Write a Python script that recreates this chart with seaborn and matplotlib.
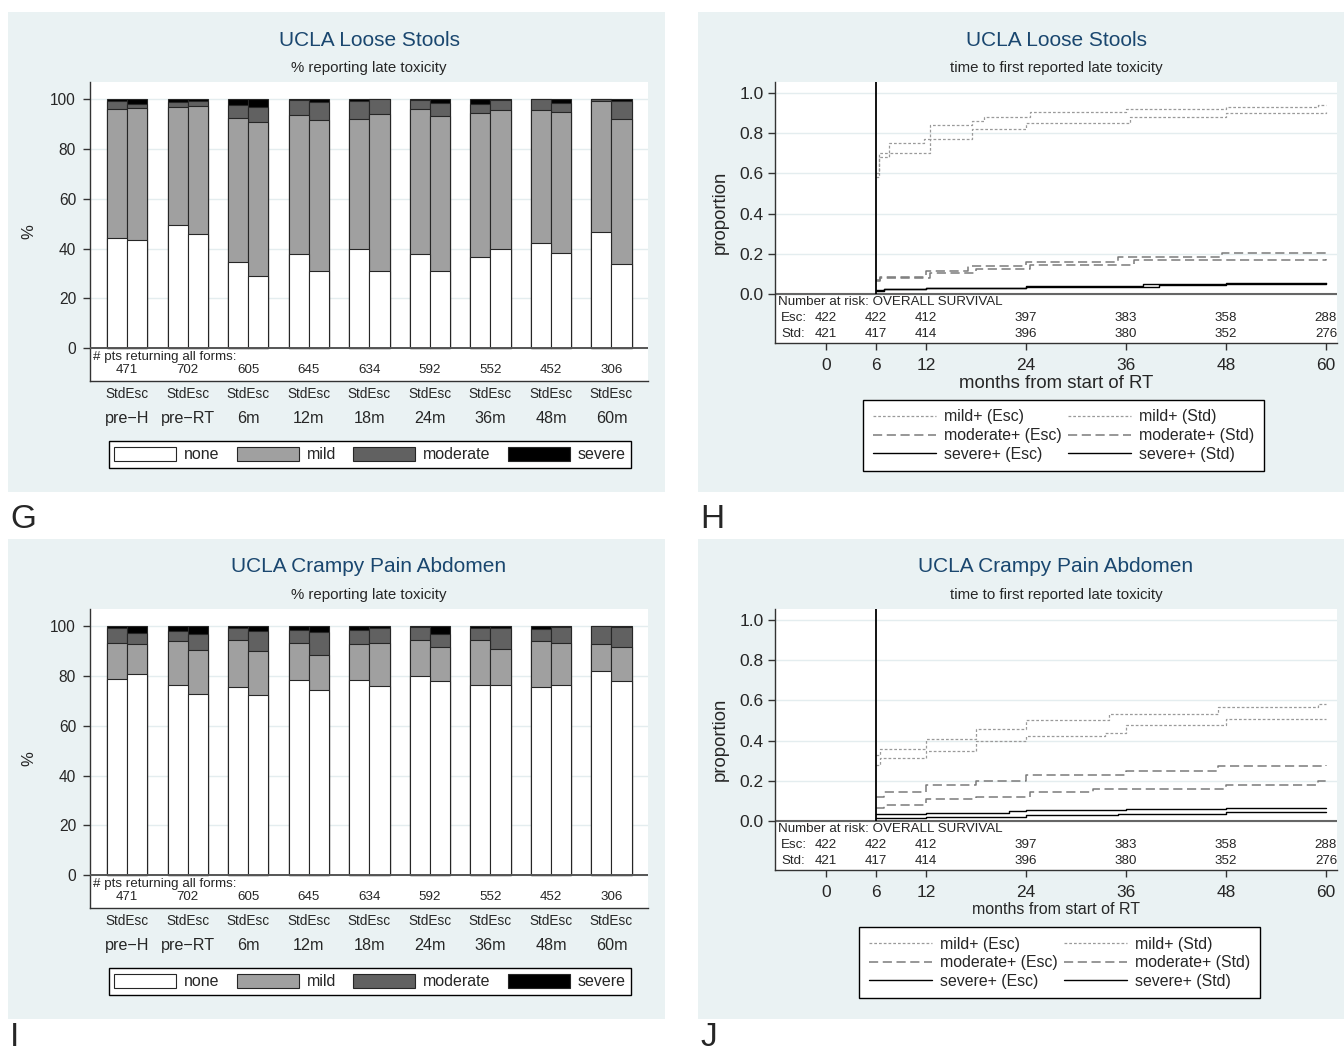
import matplotlib
matplotlib.use('Agg')
import matplotlib.pyplot as plt
from matplotlib.patches import Patch
from matplotlib.lines import Line2D
import seaborn as sns
import pandas as pd

W, H = 1344, 1054
BG = '#EAF2F3'
NAVY = '#1A476F'
GRID = '#E4EDEF'

# categories
times = ['pre\u2212H', 'pre\u2212RT', '6m', '12m', '18m', '24m', '36m', '48m', '60m']
arms = ['Std', 'Esc']
levels = ['none', 'mild', 'moderate', 'severe']
level_colors = {'none': 'white', 'mild': '#A0A0A0', 'moderate': '#616161', 'severe': 'black'}
pts_returning = [471, 702, 605, 645, 634, 592, 552, 452, 306]

# G: UCLA loose stools, % of patients per grade
g_std_none = [44.1, 49.3, 34.5, 37.9, 40.0, 37.9, 36.5, 42.4, 46.7]
g_std_mild = [51.8, 47.5, 58.0, 55.7, 51.8, 58.0, 58.0, 53.1, 52.6]
g_std_moderate = [3.4, 2.0, 5.0, 6.1, 7.3, 3.7, 3.6, 4.5, 0.7]
g_std_severe = [0.7, 1.2, 2.5, 0.3, 0.9, 0.4, 1.9, 0.0, 0.0]
g_esc_none = [43.5, 45.8, 29.0, 31.1, 30.9, 31.1, 39.7, 38.1, 33.7]
g_esc_mild = [52.8, 51.2, 61.9, 60.3, 63.0, 62.1, 55.9, 56.6, 58.4]
g_esc_moderate = [1.8, 2.3, 6.0, 7.3, 6.0, 5.3, 4.0, 3.8, 7.2]
g_esc_severe = [1.9, 0.7, 3.1, 1.3, 0.1, 1.5, 0.4, 1.5, 0.7]

# I: UCLA crampy pain abdomen, % of patients per grade
i_std_none = [78.6, 76.3, 75.5, 78.2, 78.2, 80.0, 76.5, 75.4, 81.8]
i_std_mild = [14.5, 17.6, 19.0, 15.0, 14.6, 14.3, 17.8, 18.5, 11.1]
i_std_moderate = [5.9, 4.2, 4.5, 5.2, 5.6, 5.2, 4.7, 4.7, 7.1]
i_std_severe = [1.0, 1.9, 1.0, 1.6, 1.6, 0.5, 1.0, 1.4, 0.0]
i_esc_none = [80.9, 72.9, 72.2, 74.2, 75.9, 77.8, 76.5, 76.2, 78.1]
i_esc_mild = [12.0, 17.5, 17.9, 14.3, 17.3, 13.9, 14.4, 17.0, 13.4]
i_esc_moderate = [4.3, 6.4, 7.9, 9.1, 6.0, 5.0, 8.3, 6.2, 7.9]
i_esc_severe = [2.8, 3.2, 2.0, 2.4, 0.8, 3.3, 0.8, 0.6, 0.6]

# number at risk
risk_months = [0, 6, 12, 24, 36, 48, 60]
risk_esc = [422, 422, 412, 397, 383, 358, 288]
risk_std = [421, 417, 414, 396, 380, 352, 276]

# H: cumulative incidence, loose stools
h_mild_esc_t = [6, 6.3, 7.5, 11.8, 12.5, 17.5, 19, 24.5, 36, 48, 59, 60]
h_mild_esc_v = [0.60, 0.70, 0.75, 0.77, 0.84, 0.86, 0.88, 0.905, 0.92, 0.93, 0.94, 0.94]
h_mild_std_t = [6, 6.3, 7.5, 12.5, 17.5, 24, 36.5, 48, 60]
h_mild_std_v = [0.58, 0.68, 0.70, 0.77, 0.82, 0.85, 0.88, 0.90, 0.905]
h_mod_esc_t = [6, 6.5, 12, 17, 24, 35, 47.5, 60]
h_mod_esc_v = [0.07, 0.085, 0.115, 0.14, 0.16, 0.185, 0.205, 0.205]
h_mod_std_t = [6, 6.5, 12.5, 18, 24.5, 37, 60]
h_mod_std_v = [0.065, 0.08, 0.105, 0.125, 0.145, 0.17, 0.175]
h_sev_esc_t = [6, 7, 12, 24, 38, 48, 60]
h_sev_esc_v = [0.02, 0.028, 0.033, 0.04, 0.05, 0.055, 0.057]
h_sev_std_t = [6, 7, 12, 24, 40, 48, 60]
h_sev_std_v = [0.015, 0.025, 0.03, 0.035, 0.045, 0.05, 0.055]

# J: cumulative incidence, crampy pain abdomen
j_mild_esc_t = [6, 6.5, 12, 18, 24, 34, 47, 59, 60]
j_mild_esc_v = [0.33, 0.36, 0.41, 0.46, 0.50, 0.53, 0.567, 0.58, 0.58]
j_mild_std_t = [6, 6.5, 12, 18, 24, 33.5, 36, 48, 60]
j_mild_std_v = [0.28, 0.315, 0.35, 0.40, 0.425, 0.44, 0.476, 0.505, 0.505]
j_mod_esc_t = [6, 7, 12, 18, 24, 36, 47, 60]
j_mod_esc_v = [0.12, 0.145, 0.18, 0.20, 0.23, 0.25, 0.275, 0.28]
j_mod_std_t = [6, 7, 12, 18, 24.5, 32, 48, 59, 60]
j_mod_std_v = [0.065, 0.08, 0.11, 0.12, 0.145, 0.16, 0.18, 0.20, 0.20]
j_sev_esc_t = [6, 12, 22, 24, 36, 48, 60]
j_sev_esc_v = [0.035, 0.04, 0.05, 0.058, 0.062, 0.065, 0.065]
j_sev_std_t = [6, 12, 24, 35, 48, 60]
j_sev_std_v = [0.015, 0.02, 0.03, 0.036, 0.046, 0.046]

sns.set_style('white')
plt.rcParams['font.family'] = ['Liberation Sans', 'DejaVu Sans']

STYLES = {
    'mild': dict(color='#9A9A9A', lw=0.9, linestyle=(0, (2.2, 1.6))),
    'moderate': dict(color='#7A7A7A', lw=1.1, linestyle=(0, (6, 3))),
    'severe': dict(color='black', lw=1.0, linestyle='-'),
}


def px_axes(fig, x0, y0, x1, y1):
    return fig.add_axes([x0 / W, 1 - y1 / H, (x1 - x0) / W, (y1 - y0) / H])


def background(fig, x0, y0, x1, y1):
    bg = px_axes(fig, x0, y0, x1, y1)
    bg.set_facecolor(BG)
    bg.set_xticks([])
    bg.set_yticks([])
    for s in bg.spines.values():
        s.set_visible(False)
    return bg


def bar_frame(std, esc):
    rows = []
    for arm, parts in (('Std', std), ('Esc', esc)):
        for k, t in enumerate(times):
            top = 0.0
            for lev, vals in zip(levels, parts):
                top += vals[k]
                rows.append({'time': t, 'arm': arm, 'level': lev, 'pct': vals[k], 'top': top})
    return pd.DataFrame(rows)


def draw_bars(fig, dy, title, frame):
    background(fig, 8, 12 + dy, 665, 492 + dy)
    ax = px_axes(fig, 90, 82 + dy, 648, 381 + dy)
    ax.set_facecolor('white')
    for lev in ['severe', 'moderate', 'mild', 'none']:
        sub = frame[frame['level'] == lev]
        sns.barplot(data=sub, x='time', y='top', hue='arm', order=times, hue_order=arms,
                    palette=[level_colors[lev]] * 2, width=2 / 3, gap=0, saturation=1,
                    errorbar=None, edgecolor='#262626', linewidth=0.8, legend=False, ax=ax)
    ax.set_xlim(-0.614, 8.603)
    ax.set_ylim(-13.1, 106.8)
    ax.set_xticks([])
    ax.set_xlabel('')
    ax.set_yticks([0, 20, 40, 60, 80, 100])
    ax.tick_params(axis='y', labelsize=11.2, length=5, width=1, pad=5, left=True, color='#333333')
    ax.set_ylabel('%', fontsize=12, labelpad=10)
    ax.yaxis.grid(True, color=GRID, lw=1)
    ax.set_axisbelow(True)
    for s in ['top', 'right']:
        ax.spines[s].set_visible(False)
    for s in ['left', 'bottom']:
        ax.spines[s].set_color('#333333')
        ax.spines[s].set_linewidth(1)
    ax.axhline(0, color='#555555', lw=1.4, zorder=5)

    ax.text(-0.57, -0.9, '# pts returning all forms:', fontsize=9.6, ha='left', va='top')
    for k, t in enumerate(times):
        ax.text(k, -8.6, str(pts_returning[k]), fontsize=9.6, ha='center', va='center')
        ax.text(k, -18.2, 'StdEsc', fontsize=9.8, ha='center', va='center')
        ax.text(k, -28.0, t, fontsize=11.6, ha='center', va='center')

    fig.text(369 / W, 1 - (40 + dy) / H, title, fontsize=15, color=NAVY, ha='center', va='center')
    fig.text(369 / W, 1 - (68 + dy) / H, '% reporting late toxicity', fontsize=10.8,
             ha='center', va='center')

    handles = [Patch(facecolor=level_colors[lev], edgecolor='#262626', lw=0.8) for lev in levels]
    fig.legend(handles, levels, loc='upper center', bbox_to_anchor=(370 / W, 1 - (441 + dy) / H),
               ncol=4, fontsize=11.5, frameon=True, fancybox=False, edgecolor='black',
               handlelength=3.9, handleheight=1.0, columnspacing=1.05, handletextpad=0.5,
               borderpad=0.35, borderaxespad=0, framealpha=1)


def draw_km(fig, dy, title, curves, xlab_size, leg_cx):
    background(fig, 698, 12 + dy, 1344, 492 + dy)
    ax = px_axes(fig, 775, 82 + dy, 1337, 343 + dy)
    ax.set_facecolor('white')
    ax.set_xlim(-6.12, 61.32)
    ax.set_ylim(-0.2416, 1.053)
    yt = [0.0, 0.2, 0.4, 0.6, 0.8, 1.0]
    ax.set_yticks(yt)
    ax.set_yticklabels([f'{v:.1f}' for v in yt])
    ax.set_xticks(risk_months)
    ax.tick_params(axis='y', labelsize=12.5, length=5, width=1, pad=3, left=True, color='#333333')
    ax.tick_params(axis='x', labelsize=12.5, length=5, width=1, pad=6, bottom=True, color='#333333')
    ax.yaxis.grid(True, color=GRID, lw=1)
    ax.set_axisbelow(True)
    for s in ['top', 'right']:
        ax.spines[s].set_visible(False)
    for s in ['left', 'bottom']:
        ax.spines[s].set_color('#333333')
        ax.spines[s].set_linewidth(1)
    ax.set_ylabel('proportion', fontsize=13.4, labelpad=8)
    ax.set_xlabel('months from start of RT', fontsize=xlab_size, labelpad=1)

    ax.axhline(0, color='#666666', lw=1.5, zorder=1)
    ax.vlines(6, 0, 1.053, color='black', lw=1.3, zorder=4)

    for t, v, kind in curves:
        sns.lineplot(x=t, y=v, ax=ax, drawstyle='steps-post', estimator=None, sort=False,
                     zorder=3, **STYLES[kind])

    ax.text(-5.75, -0.036, 'Number at risk: OVERALL SURVIVAL', fontsize=9.6, ha='left', va='center')
    for lab, row, yv in (('Esc:', risk_esc, -0.12), ('Std:', risk_std, -0.199)):
        ax.text(-5.4, yv, lab, fontsize=9.6, ha='left', va='center')
        for m, n in zip(risk_months, row):
            ax.text(m, yv, str(n), fontsize=9.6, ha='center', va='center')

    fig.text(1056 / W, 1 - (40 + dy) / H, title, fontsize=15, color=NAVY, ha='center', va='center')
    fig.text(1056 / W, 1 - (68 + dy) / H, 'time to first reported late toxicity', fontsize=10.8,
             ha='center', va='center')

    handles, labels = [], []
    for arm in ['Esc', 'Std']:
        for kind in ['mild', 'moderate', 'severe']:
            handles.append(Line2D([], [], **STYLES[kind]))
            labels.append(f'{kind}+ ({arm})')
    fig.legend(handles, labels, loc='upper center', bbox_to_anchor=(leg_cx / W, 1 - (400 + dy) / H),
               ncol=2, fontsize=11.4, frameon=True, fancybox=False, edgecolor='black',
               handlelength=4.0, columnspacing=0.35, handletextpad=0.5, labelspacing=0.23,
               borderpad=0.6, borderaxespad=0, framealpha=1)


fig = plt.figure(figsize=(W / 100, H / 100), dpi=100)
fig.patch.set_facecolor('white')

g_frame = bar_frame([g_std_none, g_std_mild, g_std_moderate, g_std_severe],
                    [g_esc_none, g_esc_mild, g_esc_moderate, g_esc_severe])
i_frame = bar_frame([i_std_none, i_std_mild, i_std_moderate, i_std_severe],
                    [i_esc_none, i_esc_mild, i_esc_moderate, i_esc_severe])

draw_bars(fig, 0, 'UCLA Loose Stools', g_frame)
draw_bars(fig, 527, 'UCLA Crampy Pain Abdomen', i_frame)

h_curves = [
    (h_mild_esc_t, h_mild_esc_v, 'mild'), (h_mild_std_t, h_mild_std_v, 'mild'),
    (h_mod_esc_t, h_mod_esc_v, 'moderate'), (h_mod_std_t, h_mod_std_v, 'moderate'),
    (h_sev_esc_t, h_sev_esc_v, 'severe'), (h_sev_std_t, h_sev_std_v, 'severe'),
]
j_curves = [
    (j_mild_esc_t, j_mild_esc_v, 'mild'), (j_mild_std_t, j_mild_std_v, 'mild'),
    (j_mod_esc_t, j_mod_esc_v, 'moderate'), (j_mod_std_t, j_mod_std_v, 'moderate'),
    (j_sev_esc_t, j_sev_esc_v, 'severe'), (j_sev_std_t, j_sev_std_v, 'severe'),
]
draw_km(fig, 0, 'UCLA Loose Stools', h_curves, 13.4, 1063.5)
draw_km(fig, 527, 'UCLA Crampy Pain Abdomen', j_curves, 11.5, 1059.5)

for lab, x, y in (('G', 10, 519), ('H', 700, 519), ('I', 10, 1038), ('J', 700, 1038)):
    fig.text(x / W, 1 - y / H, lab, fontsize=24, ha='left', va='center')

fig.savefig('out.png', dpi=100)
